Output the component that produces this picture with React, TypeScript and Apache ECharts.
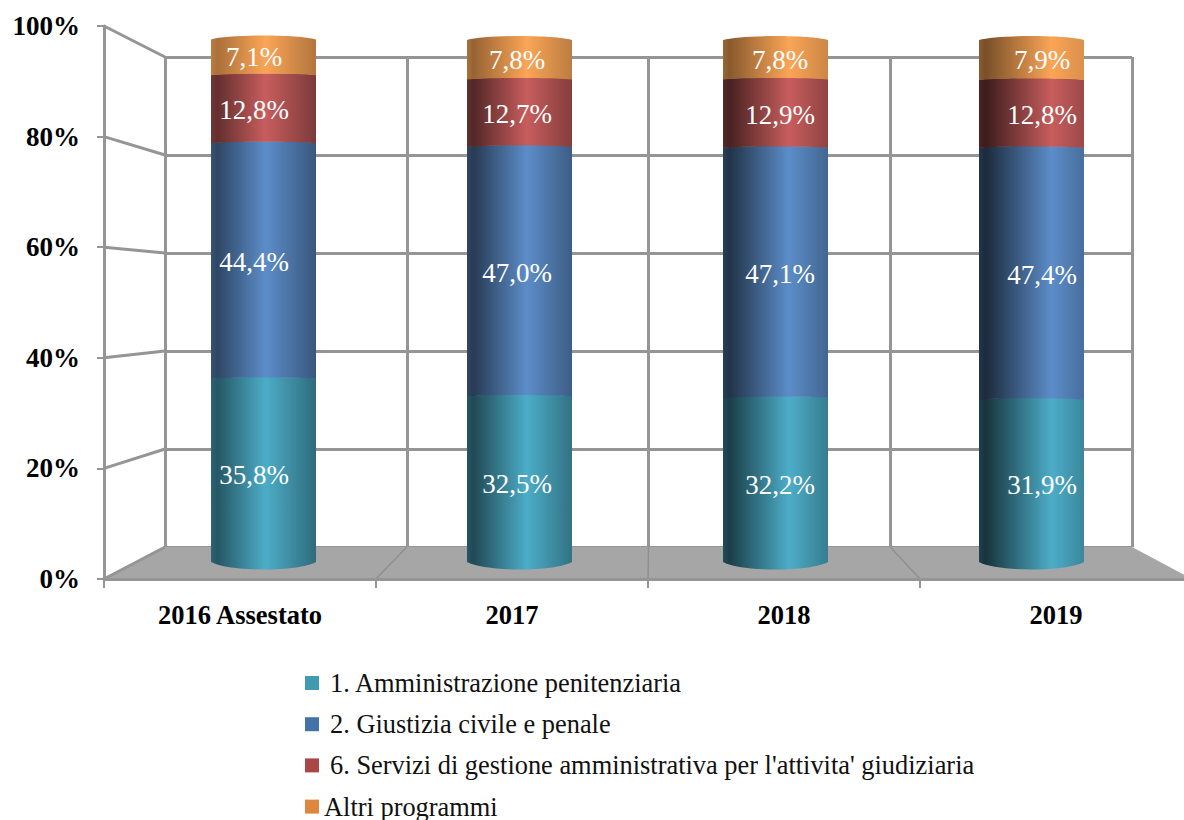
import React, { useEffect, useRef } from "react";
import * as echarts from "echarts";

const categories = ["2016 Assestato", "2017", "2018", "2019"];
const amministrazione = [35.8, 32.5, 32.2, 31.9];
const giustizia = [44.4, 47.0, 47.1, 47.4];
const servizi = [12.8, 12.7, 12.9, 12.8];
const altri = [7.1, 7.8, 7.8, 7.9];

const seriesNames = [
  "1. Amministrazione penitenziaria",
  "2. Giustizia civile e penale",
  "6. Servizi di gestione amministrativa per l'attivita' giudiziaria",
  "Altri programmi",
];
const seriesValues = [amministrazione, giustizia, servizi, altri];
const legendColors = ["#3f9ab2", "#4571a9", "#aa4646", "#e0873f"];
const highlightColors = ["#4cadc8", "#5c8dc9", "#c85d5d", "#fba556"];
const legendTextGap = [6, 6, 6, 0];

// lighting of each cylinder: position of the highlight, left and right edge shade
const highlightPos = [0.52, 0.57, 0.63, 0.69];
const leftShade = [0.5, 0.42, 0.36, 0.3];
const rightShade = [0.62, 0.66, 0.72, 0.78];
const edgeBoost = [0, 0, 0, 0.18];
const labelShift = [-9.5, -2.5, 4.5, 10.5];

const SERIF = "'Liberation Serif', 'Times New Roman', serif";
const BAR_W = 105;
const GRID_COLOR = "#959595";

function shade(hex: string, f: number) {
  const n = parseInt(hex.slice(1), 16);
  const c = [(n >> 16) & 255, (n >> 8) & 255, n & 255].map((v) => Math.round(v * Math.min(f, 1)));
  return `rgb(${c[0]},${c[1]},${c[2]})`;
}

function cylinderSeries(sIdx: number) {
  const data = categories.map((_, i) => {
    let base = 0;
    for (let k = 0; k < sIdx; k++) base += seriesValues[k][i];
    return [i, base, base + seriesValues[sIdx][i], seriesValues[sIdx][i]];
  });
  return {
    type: "custom",
    name: seriesNames[sIdx],
    xAxisIndex: 2,
    yAxisIndex: 2,
    silent: true,
    z: 3,
    itemStyle: { color: legendColors[sIdx] },
    encode: { x: 0, y: [1, 2] },
    data,
    renderItem: (_p: any, api: any) => {
      const i = api.value(0);
      const b = api.coord([i, api.value(1)]);
      const t = api.coord([i, api.value(2)]);
      const l = b[0] - BAR_W / 2;
      const r = b[0] + BAR_W / 2;
      const isBottom = sIdx === 0;
      const isTop = sIdx === seriesNames.length - 1;
      const topArc = isTop ? 4 : 1.5;
      const yt = t[1] + topArc;
      const topCtrl = yt - topArc * 1.33;
      // the bottom edge overlaps the segment below by a hair, so that no seam shows
      const yb = isBottom ? b[1] - 5 : b[1] + 2.1;
      const botCtrl = isBottom ? b[1] + 5 : b[1] + 0.1;
      const d =
        `M${l} ${yb}L${l} ${yt}` +
        `C${l + 18} ${topCtrl} ${r - 18} ${topCtrl} ${r} ${yt}` +
        `L${r} ${yb}` +
        `C${r - 18} ${botCtrl} ${l + 18} ${botCtrl} ${l} ${yb}Z`;
      const hi = highlightColors[sIdx];
      const boost = edgeBoost[sIdx];
      return {
        type: "group",
        children: [
          {
            type: "path",
            shape: { pathData: d },
            style: {
              fill: new echarts.graphic.LinearGradient(0, 0, 1, 0, [
                { offset: 0, color: shade(hi, leftShade[i] + boost + 0.08) },
                { offset: 0.06, color: shade(hi, leftShade[i] + boost) },
                { offset: highlightPos[i], color: hi },
                { offset: 1, color: shade(hi, rightShade[i] + boost / 2) },
              ]),
            },
          },
          {
            type: "text",
            x: b[0] + labelShift[i],
            y: (b[1] + t[1]) / 2 + 3,
            style: {
              text: api.value(3).toFixed(1).replace(".", ",") + "%",
              fill: "#ffffff",
              font: `27px ${SERIF}`,
              align: "center",
              verticalAlign: "middle",
            },
          },
        ],
      };
    },
  };
}

// Perspective frame: the front axis is at x=104, the back wall at x=165
const frontY = [579, 468.4, 357.8, 247.2, 136.6, 26];
const backY = [547, 449, 351, 253, 155, 57];
const floorFront = [104, 376, 648, 920, 1192];
const floorBack = [165, 406.75, 648.5, 890.25, 1132];

function frameGraphics() {
  const floor = {
    type: "polygon",
    z: 1,
    silent: true,
    shape: {
      points: [
        [floorFront[0], frontY[0]],
        [floorBack[0], backY[0]],
        [floorBack[4], backY[0]],
        [floorFront[4], frontY[0]],
      ],
    },
    style: { fill: "#a6a6a6", stroke: "none" },
  };
  const wall = frontY.map((fy, i) => ({
    type: "line",
    z: 1,
    silent: true,
    shape: { x1: 104, y1: fy, x2: 165, y2: backY[i] },
    style: { stroke: GRID_COLOR, lineWidth: 3 },
  }));
  const dividers = floorFront.slice(1, 4).map((fx, i) => ({
    type: "line",
    z: 1,
    silent: true,
    shape: { x1: fx, y1: frontY[0], x2: floorBack[i + 1], y2: backY[0] },
    style: { stroke: "#8f8f8f", lineWidth: 1.5 },
  }));
  return [floor, ...wall, ...dividers];
}

export default function App() {
  const ref = useRef<HTMLDivElement>(null);
  useEffect(() => {
    const chart = echarts.init(ref.current!, null, { renderer: "svg" });
    chart.setOption({
      animation: false,
      backgroundColor: "#ffffff",
      graphic: { elements: frameGraphics() },
      grid: [
        { left: 104, top: 26, width: 1088, height: 553 },
        { left: 165, top: 57, width: 967, height: 490 },
        { left: 135.5, top: 36, width: 1024, height: 531 },
      ],
      xAxis: [
        {
          gridIndex: 0,
          type: "category",
          data: categories,
          axisLine: { show: true, lineStyle: { color: GRID_COLOR, width: 3 } },
          axisTick: { show: true, length: 9, lineStyle: { color: GRID_COLOR, width: 2 } },
          axisLabel: {
            margin: 22,
            color: "#000",
            fontFamily: SERIF,
            fontWeight: "bold",
            fontSize: 26.5,
          },
          z: 2,
        },
        {
          gridIndex: 1,
          type: "category",
          data: categories,
          axisLine: { show: false },
          axisTick: { show: false },
          axisLabel: { show: false },
          splitLine: { show: true, interval: 0, lineStyle: { color: GRID_COLOR, width: 3 } },
        },
        {
          gridIndex: 2,
          type: "category",
          data: categories,
          show: false,
        },
      ],
      yAxis: [
        {
          gridIndex: 0,
          type: "value",
          min: 0,
          max: 100,
          interval: 20,
          axisLine: { show: true, lineStyle: { color: GRID_COLOR, width: 3 } },
          axisTick: { show: true, length: 7, lineStyle: { color: GRID_COLOR, width: 2 } },
          splitLine: { show: false },
          axisLabel: {
            margin: 24,
            color: "#000",
            fontFamily: SERIF,
            fontWeight: "bold",
            fontSize: 27,
            formatter: "{value}%",
          },
          z: 2,
        },
        {
          gridIndex: 1,
          type: "value",
          min: 0,
          max: 100,
          interval: 20,
          axisLine: { show: false },
          axisTick: { show: false },
          axisLabel: { show: false },
          splitLine: { show: true, lineStyle: { color: GRID_COLOR, width: 3 } },
        },
        {
          gridIndex: 2,
          type: "value",
          min: 0,
          max: 100,
          show: false,
          splitLine: { show: false },
        },
      ],
      legend: {
        orient: "vertical",
        left: 305,
        top: 670,
        height: 200,
        itemWidth: 14,
        itemHeight: 14,
        itemGap: 15.2,
        icon: "rect",
        selectedMode: false,
        padding: 0,
        data: seriesNames.map((name, i) => ({
          name,
          textStyle: { padding: [0, 0, 0, legendTextGap[i]] },
        })),
        textStyle: {
          fontFamily: SERIF,
          fontSize: 26.4,
          color: "#111",
          lineHeight: 24,
        },
      },
      series: seriesNames.map((_, i) => cylinderSeries(i)),
    });
    return () => chart.dispose();
  }, []);
  return (
    <div style={{ position: "absolute", left: 0, top: 0, width: 1184, height: 820, overflow: "hidden" }}>
      <div ref={ref} style={{ width: 1192, height: 820 }} />
    </div>
  );
}
